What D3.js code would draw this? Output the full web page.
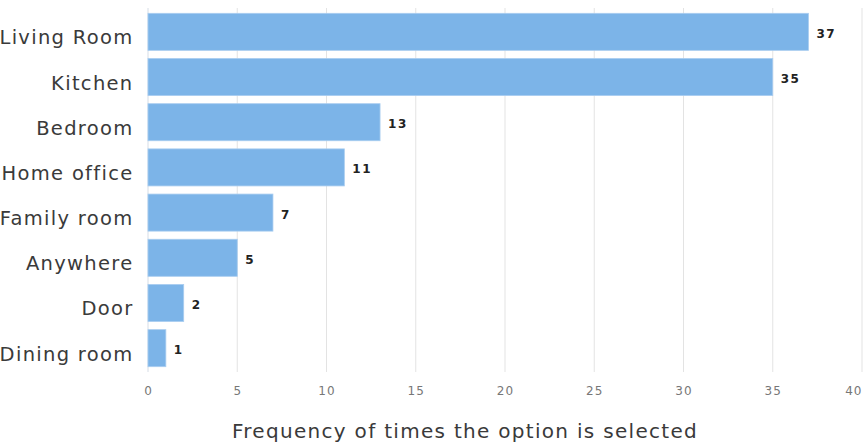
<!DOCTYPE html>
<html>
<head>
<meta charset="utf-8">
<script src="https://cdn.jsdelivr.net/npm/d3@7"></script>
<style>
  html, body { margin: 0; padding: 0; background: #fff; }
  svg { display: block; font-family: "DejaVu Sans", Verdana, sans-serif; }
</style>
</head>
<body>
<svg id="chart" width="866" height="444"></svg>
<script>
// Rooms and how often each was chosen
const categories = ["Living Room", "Kitchen", "Bedroom", "Home office", "Family room", "Anywhere", "Door", "Dining room"];
const counts = [37, 35, 13, 11, 7, 5, 2, 1];
const xTicks = [0, 5, 10, 15, 20, 25, 30, 35, 40];
const xTitle = "Frequency of times the option is selected";

const svg = d3.select("#chart");
const plotLeft = 148, plotRight = 862, plotTop = 8, plotBottom = 372;

const x = d3.scaleLinear().domain([0, 40]).range([plotLeft, plotRight]);
const y = d3.scaleBand().domain(categories).range([plotTop + 3.5, plotBottom - 3.5]).paddingInner(0.18).paddingOuter(0.04);

// vertical gridlines
svg.append("g").selectAll("line").data(xTicks.slice(1)).join("line")
  .attr("x1", d => x(d)).attr("x2", d => x(d))
  .attr("y1", plotTop).attr("y2", plotBottom)
  .attr("stroke", "#e3e3e3").attr("stroke-width", 1);

// baseline
svg.append("line")
  .attr("x1", x(0)).attr("x2", x(0)).attr("y1", plotTop).attr("y2", plotBottom)
  .attr("stroke", "#d6dde6").attr("stroke-width", 1);

// bars
svg.append("g").selectAll("rect").data(categories).join("rect")
  .attr("x", x(0))
  .attr("y", d => y(d))
  .attr("width", (d, i) => x(counts[i]) - x(0))
  .attr("height", y.bandwidth())
  .attr("fill", "#7cb4e8")
  .attr("stroke", "#a9cdf0")
  .attr("stroke-width", 0.8);

// value labels
svg.append("g").selectAll("text").data(categories).join("text")
  .attr("x", (d, i) => x(counts[i]) + 8)
  .attr("y", d => y(d) + y.bandwidth() / 2 + 6)
  .attr("font-size", 12)
  .attr("font-weight", "bold")
  .attr("letter-spacing", "1.5px")
  .attr("fill", "#222")
  .text((d, i) => counts[i]);

// category labels
svg.append("g").selectAll("text").data(categories).join("text")
  .attr("x", 133.5)
  .attr("y", d => y(d) + y.bandwidth() / 2 + 12.5)
  .attr("text-anchor", "end")
  .attr("font-size", 19.5)
  .attr("letter-spacing", "1.3px")
  .attr("fill", "#3a3a3a")
  .text(d => d);

// x axis tick labels
const xAxis = d3.axisBottom(x).tickValues(xTicks).tickSize(0).tickPadding(0);
const ax = svg.append("g").attr("transform", `translate(0, ${plotBottom + 14})`).call(xAxis);
ax.select(".domain").remove();
ax.selectAll("text")
  .attr("font-family", "\"DejaVu Sans\", Verdana, sans-serif")
  .attr("font-size", 12)
  .attr("letter-spacing", "1px")
  .attr("fill", "#777");
ax.selectAll(".tick").filter(d => d === 40).select("text").attr("text-anchor", "end");

// axis title
svg.append("text")
  .attr("x", 465).attr("y", 437.5)
  .attr("text-anchor", "middle")
  .attr("font-size", 20)
  .attr("letter-spacing", "1.3px")
  .attr("fill", "#3a3a3a")
  .text(xTitle);
</script>
</body>
</html>
